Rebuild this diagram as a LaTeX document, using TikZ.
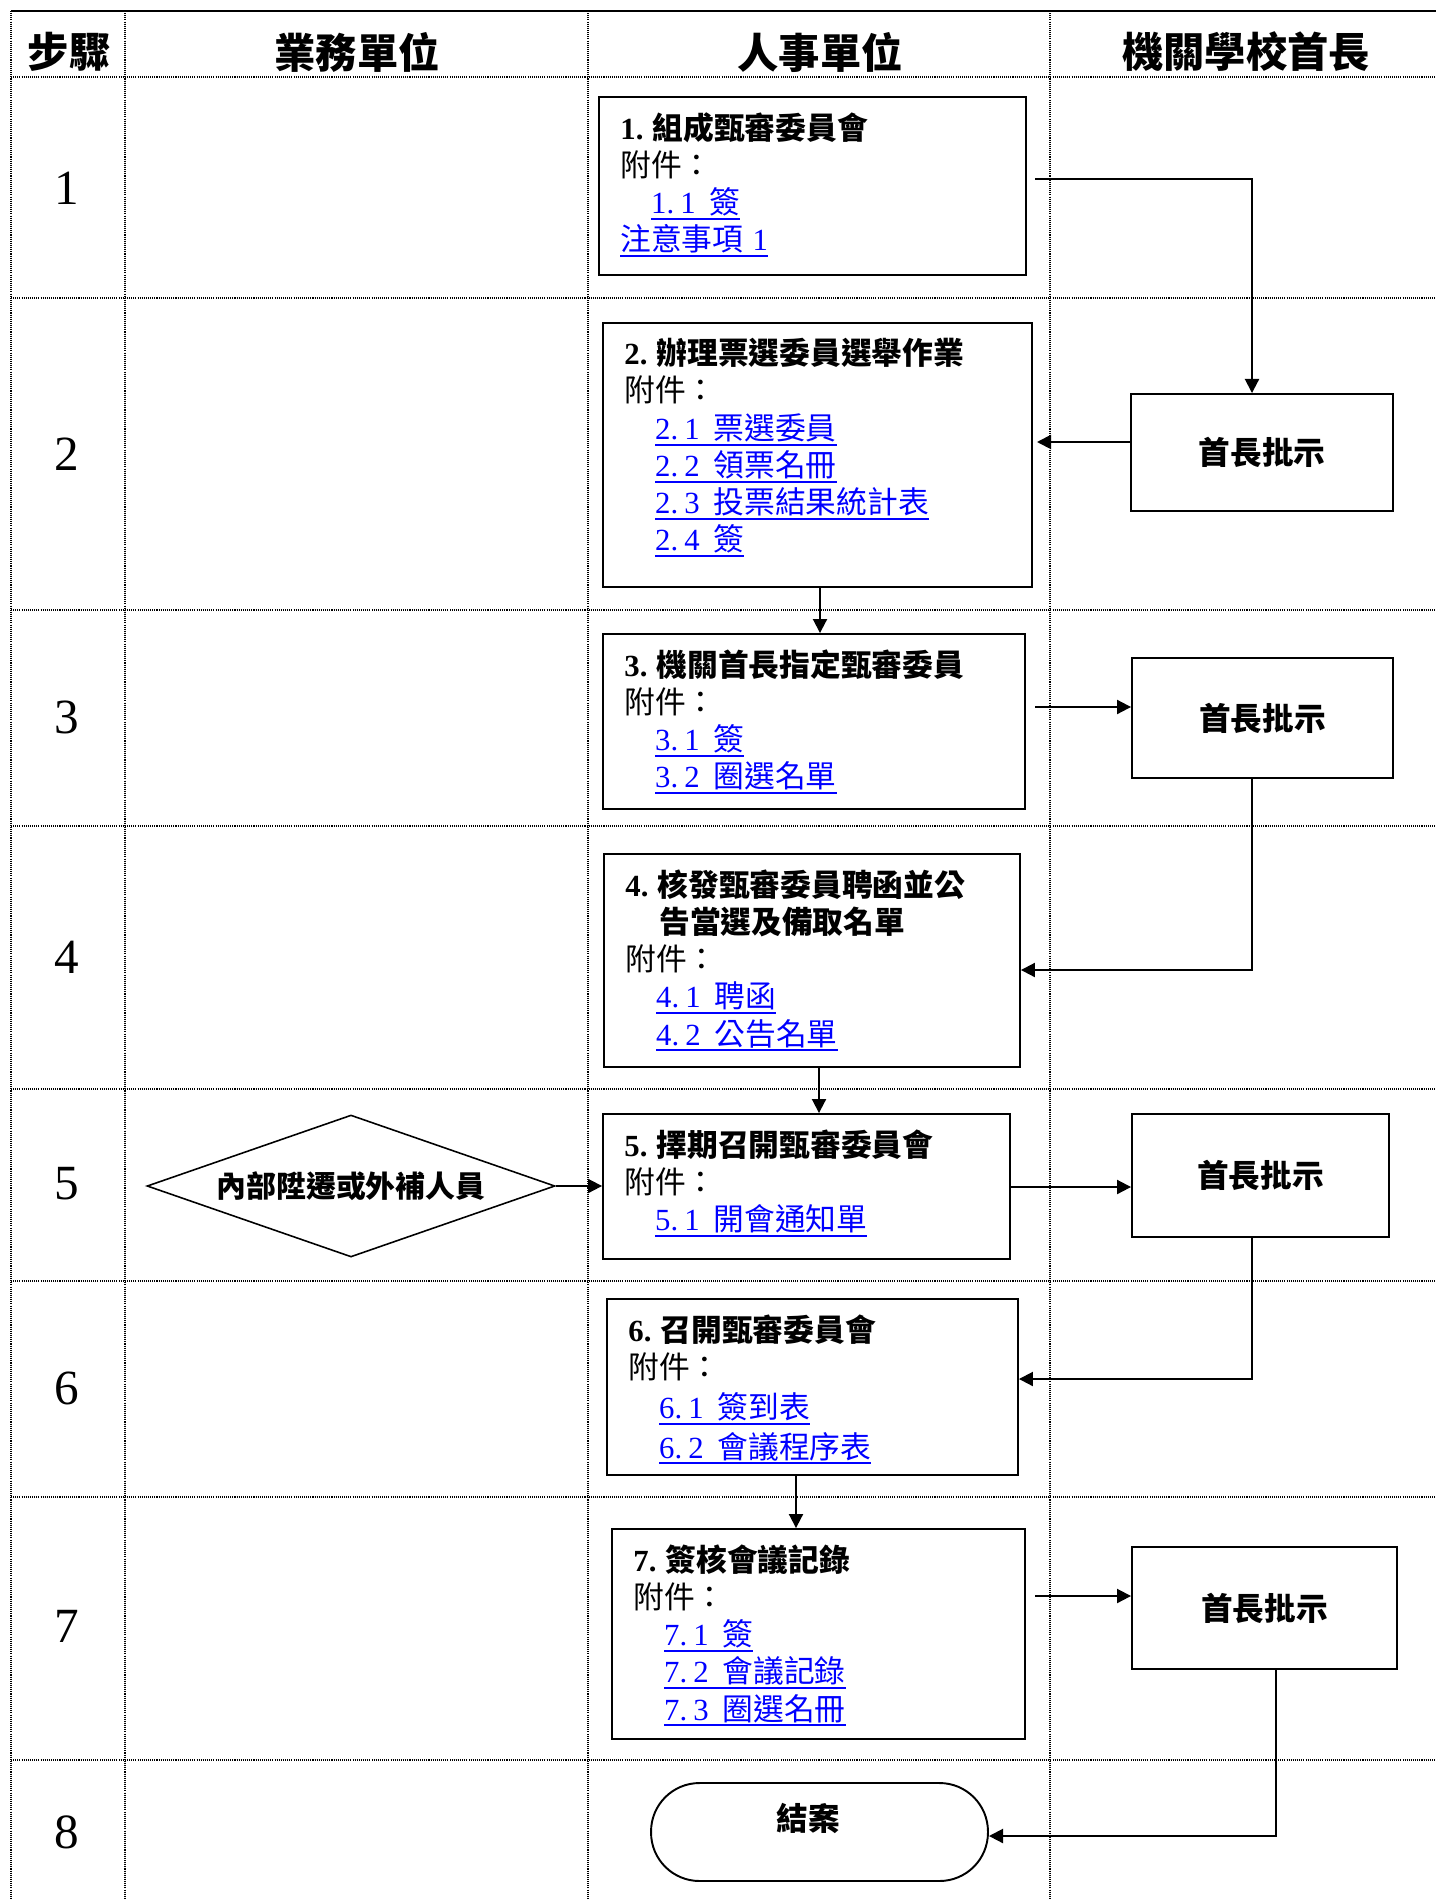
\documentclass[tikz,border=0pt]{standalone}
\usepackage{fontspec}
\setmainfont{Liberation Serif}
\newfontfamily\cjk{Noto Sans CJK TC}
\usetikzlibrary{arrows.meta,shapes.geometric,calc}

\newcommand{\lat}[1]{{\rmfamily #1}}
\newcommand{\ulink}[1]{{\color{blue}\setbox0\hbox{#1}\rlap{\rule[-3.6pt]{\wd0}{1.1pt}}\box0}}
\newcommand{\attach}[3]{\hspace*{1em}\ulink{\lat{#1.\hspace{.2em}#2}\hspace{.45em}#3}}
\newcommand{\steptitle}[2]{{\bfseries\lat{#1.}\hspace{.3em}#2}}

\begin{document}
\begin{tikzpicture}[x=0.02cm, y=-0.02cm,
    gridline/.style={line width=0.6pt, dash pattern=on 0.6pt off 0.6pt},
    head/.style={font=\cjk\bfseries\fontsize{23.5}{28}\selectfont},
    stepnum/.style={font=\fontsize{28}{32}\selectfont},
    stepbox/.style={draw, line width=1.1pt, inner sep=0pt},
    boxtext/.style={anchor=north west, inner sep=0pt, align=left,
        font=\cjk\fontsize{17.5}{21.2}\selectfont,
        execute at begin node={\rule{0pt}{16pt}}},
    approve/.style={stepbox, font=\cjk\bfseries\fontsize{18}{22}\selectfont},
    arr/.style={line width=1.1pt, -{Triangle[length=8pt,width=8pt]}}]
    \useasboundingbox (0,0) rectangle (1436,1899);
    \draw[line width=1.7pt] (11,11) -- (1436,11);
    \draw[gridline] (11,11) -- (11,1899);
    \draw[gridline] (125,11) -- (125,1899);
    \draw[gridline] (588,11) -- (588,1899);
    \draw[gridline] (1050,11) -- (1050,1899);
    \draw[gridline] (11,77) -- (1436,77);
    \draw[gridline] (11,298) -- (1436,298);
    \draw[gridline] (11,610) -- (1436,610);
    \draw[gridline] (11,826) -- (1436,826);
    \draw[gridline] (11,1089) -- (1436,1089);
    \draw[gridline] (11,1281) -- (1436,1281);
    \draw[gridline] (11,1497) -- (1436,1497);
    \draw[gridline] (11,1760) -- (1436,1760);
    \node[head] (h0) at (69,52) {步驟};
    \node[head] (h1) at (357,52) {業務單位};
    \node[head] (h2) at (820,52) {人事單位};
    \node[head] (h3) at (1246,52) {機關學校首長};
    \node[stepnum] (n1) at (67,188) {1};
    \node[stepnum] (n2) at (67,454) {2};
    \node[stepnum] (n3) at (67,717) {3};
    \node[stepnum] (n4) at (67,957) {4};
    \node[stepnum] (n5) at (67,1184) {5};
    \node[stepnum] (n6) at (67,1388) {6};
    \node[stepnum] (n7) at (67,1626) {7};
    \node[stepnum] (n8) at (67,1832) {8};
    \node[stepbox, minimum width=8.54cm, minimum height=3.56cm] (b1) at (812.5,186) {};
    \node[stepbox, minimum width=8.58cm, minimum height=5.28cm] (b2) at (817.5,455) {};
    \node[stepbox, minimum width=8.44cm, minimum height=3.5cm] (b3) at (814,721.5) {};
    \node[stepbox, minimum width=8.32cm, minimum height=4.26cm] (b4) at (812,960.5) {};
    \node[stepbox, minimum width=8.14cm, minimum height=2.9cm] (b5) at (806.5,1186.5) {};
    \node[stepbox, minimum width=8.22cm, minimum height=3.52cm] (b6) at (812.5,1387) {};
    \node[stepbox, minimum width=8.26cm, minimum height=4.2cm] (b7) at (818.5,1634) {};
    \node[stepbox, rounded corners=0.97cm, minimum width=6.74cm, minimum height=1.96cm] (b8) at (819.5,1832) {};
    \node[boxtext] (t1) at ($(b1.north west)+(22,16)$) {\steptitle{1}{組成甄審委員會}\\
        附件：\\ \attach{1}{1}{簽}\\ \ulink{注意事項\lat{\hspace{.3em}1}}};
    \node[boxtext] (t2) at ($(b2.north west)+(22,16)$) {\steptitle{2}{辦理票選委員選舉作業}\\
        附件：\\ \attach{2}{1}{票選委員}\\ \attach{2}{2}{領票名冊}\\
        \attach{2}{3}{投票結果統計表}\\ \attach{2}{4}{簽}};
    \node[boxtext] (t3) at ($(b3.north west)+(22,16)$) {\steptitle{3}{機關首長指定甄審委員}\\
        附件：\\ \attach{3}{1}{簽}\\ \attach{3}{2}{圈選名單}};
    \node[boxtext] (t4) at ($(b4.north west)+(22,16)$) {\steptitle{4}{核發甄審委員聘函並公}\\
        \hspace*{1.1em}{\bfseries 告當選及備取名單}\\
        附件：\\ \attach{4}{1}{聘函}\\ \attach{4}{2}{公告名單}};
    \node[boxtext] (t5) at ($(b5.north west)+(22,16)$) {\steptitle{5}{擇期召開甄審委員會}\\
        附件：\\ \attach{5}{1}{開會通知單}};
    \node[boxtext] (t6) at ($(b6.north west)+(22,16)$) {\steptitle{6}{召開甄審委員會}\\
        附件：\\[1.5pt] \attach{6}{1}{簽到表}\\[1.5pt] \attach{6}{2}{會議程序表}};
    \node[boxtext] (t7) at ($(b7.north west)+(22,16)$) {\steptitle{7}{簽核會議記錄}\\
        附件：\\ \attach{7}{1}{簽}\\ \attach{7}{2}{會議記錄}\\ \attach{7}{3}{圈選名冊}};
    \node[font=\cjk\bfseries\fontsize{18}{22}\selectfont] (t8) at (808,1818) {結案};
    \node[approve, minimum width=5.24cm, minimum height=2.34cm] (a2) at (1262,452.5) {首長批示};
    \node[approve, minimum width=5.22cm, minimum height=2.4cm] (a3) at (1262.5,718) {首長批示};
    \node[approve, minimum width=5.14cm, minimum height=2.46cm] (a5) at (1260.5,1175.5) {首長批示};
    \node[approve, minimum width=5.3cm, minimum height=2.44cm] (a7) at (1264.5,1608) {首長批示};
    \node[draw, line width=0.9pt, diamond, shape aspect=2.87, inner sep=0pt,
        minimum width=8.16cm, minimum height=2.84cm,
        font=\cjk\bfseries\fontsize{17}{21}\selectfont] (d5) at (351,1186) {內部陞遷或外補人員};
    \coordinate (k1) at (1035,179);
    \coordinate (k2) at (1037,442);
    \coordinate (k3) at (1035,707);
    \coordinate (k5) at (0,1187);
    \coordinate (k7) at (1035,1596);
    \coordinate (v23) at (820,0);
    \coordinate (v45) at (819,0);
    \coordinate (v67) at (796,0);
    \coordinate (r4) at (1252,970);
    \coordinate (r6) at (1252,1379);
    \coordinate (r8) at (1276,1836);
    \draw[arr] (k1) -| ($(a2.north)+(-10,0)$);
    \draw[arr] (a2.west |- k2) -- (k2);
    \draw[arr] (b2.south -| v23) -- (b3.north -| v23);
    \draw[arr] (k3) -- (k3 -| a3.west);
    \draw[arr] (a3.south -| r4) |- (b4.east |- r4);
    \draw[arr] (b4.south -| v45) -- (b5.north -| v45);
    \draw[arr] (d5.east) -- (b5.west |- d5.east);
    \draw[arr] (b5.east |- k5) -- (a5.west |- k5);
    \draw[arr] (a5.south -| r6) |- (b6.east |- r6);
    \draw[arr] (b6.south -| v67) -- (b7.north -| v67);
    \draw[arr] (k7) -- (k7 -| a7.west);
    \draw[arr] (a7.south -| r8) |- (b8.east |- r8);
\end{tikzpicture}
\end{document}
